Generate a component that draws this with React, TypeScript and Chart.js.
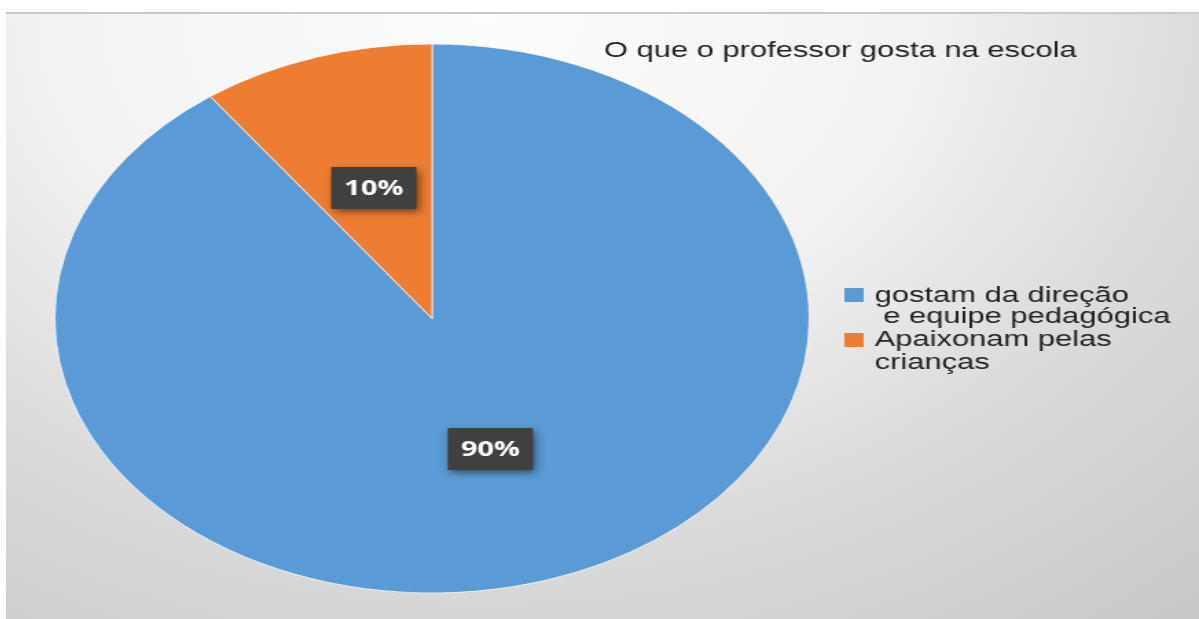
import React, { useEffect, useRef } from "react";
import { Chart, registerables } from "chart.js";

Chart.register(...registerables);

const chartTitle = "O que o professor gosta na escola";
const categories = ["gostam da direção e equipe pedagógica", "Apaixonam pelas crianças"];
const legendLines = [
  ["gostam da direção", " e equipe pedagógica"],
  ["Apaixonam pelas", "crianças"],
];
const values = [90, 10];
const percentLabels = ["90%", "10%"];
const sliceColors = ["#5b9bd5", "#ed7d31"];

const CANVAS_W = 868;
const CANVAS_H = 607;
const STRETCH = 1193 / 868;
const TEXT_FONT = '22.5px "Liberation Sans", Arial, sans-serif';

const overlayPlugin = {
  id: "overlay",
  afterDatasetsDraw(chart: any) {
    const ctx = chart.ctx;
    const meta = chart.getDatasetMeta(0);
    meta.data.forEach((arc: any, i: number) => {
      const p = arc.getCenterPoint();
      const bw = 62;
      const bh = 42;
      ctx.save();
      ctx.shadowColor = "rgba(0,0,0,0.55)";
      ctx.shadowBlur = 7;
      ctx.shadowOffsetX = 2;
      ctx.shadowOffsetY = 3;
      ctx.fillStyle = "#404040";
      ctx.fillRect(p.x - bw / 2, p.y - bh / 2, bw, bh);
      ctx.restore();
      ctx.save();
      ctx.fillStyle = "#ffffff";
      ctx.font = 'bold 21px "Open Sans", "DejaVu Sans", sans-serif';
      ctx.textAlign = "center";
      ctx.textBaseline = "middle";
      ctx.fillText(percentLabels[i], p.x, p.y + 1);
      ctx.restore();
    });
  },
  afterDraw(chart: any) {
    const ctx = chart.ctx;
    ctx.save();
    ctx.fillStyle = "#222222";
    ctx.font = TEXT_FONT;
    ctx.textAlign = "left";
    ctx.textBaseline = "alphabetic";
    ctx.fillText(chartTitle, 435, 45);
    // legend
    const baselines = [[290, 311], [334, 357]];
    const squareY = [276, 321];
    legendLines.forEach((lines, i) => {
      ctx.fillStyle = sliceColors[i];
      ctx.fillRect(610, squareY[i], 14, 14);
      ctx.fillStyle = "#222222";
      lines.forEach((t, j) => {
        ctx.fillText(t, 632, baselines[i][j]);
      });
    });
    ctx.restore();
  },
};

export default function App() {
  const ref = useRef<HTMLCanvasElement | null>(null);
  useEffect(() => {
    if (!ref.current) return;
    const chart = new Chart(ref.current, {
      type: "pie",
      data: {
        labels: categories,
        datasets: [
          {
            data: values,
            backgroundColor: sliceColors,
            borderColor: "rgba(255,255,255,0.7)",
            borderWidth: 1,
          },
        ],
      },
      options: {
        responsive: false,
        animation: false,
        devicePixelRatio: 1,
        layout: { padding: { top: 31, bottom: 25, left: 35, right: 283 } },
        plugins: {
          legend: { display: false },
          title: { display: false },
          tooltip: { enabled: false },
        },
      },
      plugins: [overlayPlugin],
    });
    return () => chart.destroy();
  }, []);

  return (
    <div
      style={{
        position: "absolute",
        left: 6,
        top: 12,
        width: 1193,
        height: 607,
        overflow: "hidden",
        background:
          "radial-gradient(ellipse 1100px 800px at 40% 0%, #fdfdfd 0%, #f2f2f2 40%, #dcdcdc 65%, #d0d0d0 85%, #c8c8c8 100%)",
      }}
    >
      <div style={{ position: "absolute", left: 0, top: 0, width: "100%", height: 2, background: "#c9c9c9" }} />
      <canvas
        ref={ref}
        width={CANVAS_W}
        height={CANVAS_H}
        style={{
          position: "absolute",
          left: 0,
          top: 0,
          width: CANVAS_W,
          height: CANVAS_H,
          transform: `scaleX(${STRETCH})`,
          transformOrigin: "0 0",
        }}
      />
    </div>
  );
}
